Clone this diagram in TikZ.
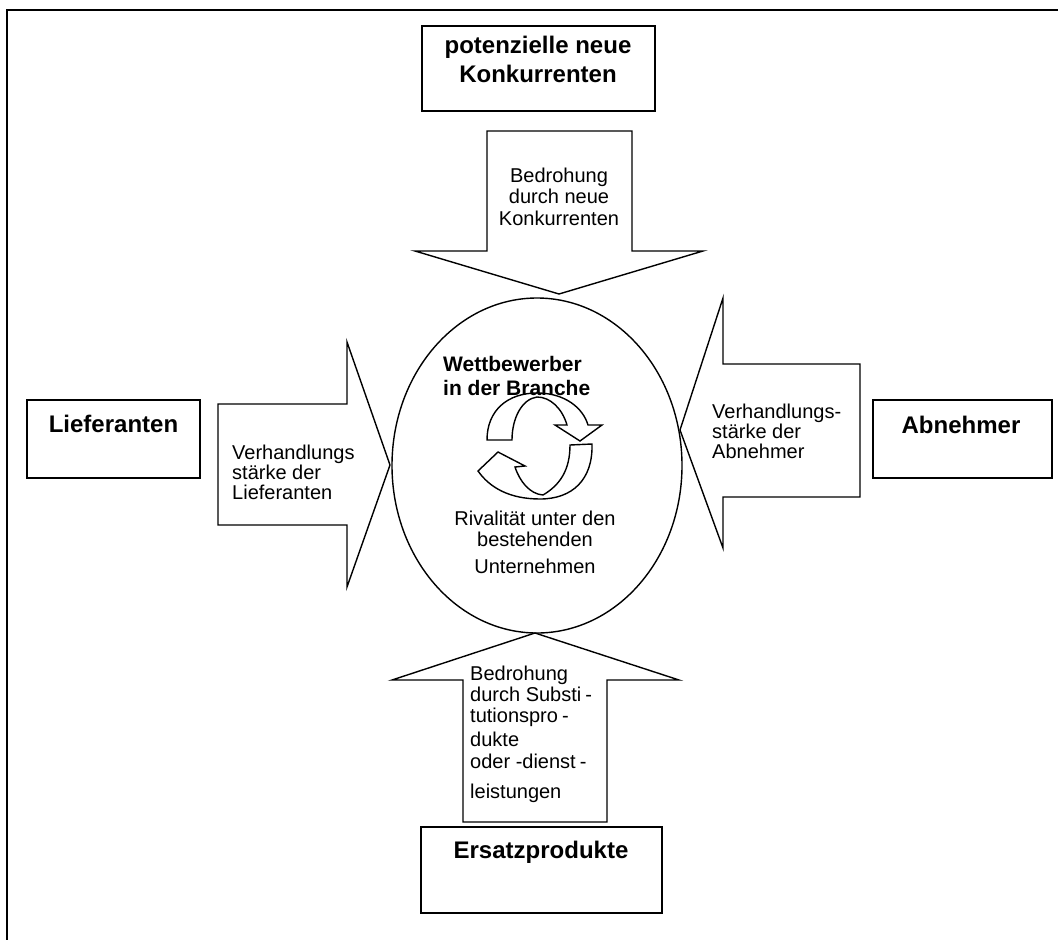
\documentclass[tikz,border=0pt]{standalone}
\usepackage{fontspec}
\setmainfont{Liberation Sans}
\usetikzlibrary{shapes.geometric}
\begin{document}
\begin{tikzpicture}[x=1pt,y=-1pt,
  outline/.style={draw=black,line width=1.4pt,line join=miter},
  boxtext/.style={font=\fontsize{24}{29}\selectfont\bfseries,inner sep=0pt,align=center,anchor=north},
  plain/.style={font=\fontsize{20}{21}\selectfont,inner sep=0pt},
  hy/.style={}
]
\useasboundingbox (0,0) rectangle (1058,940);

% outer frame, running off the right and bottom edges
\begin{scope}
  \clip (0,0) rectangle (1058,940);
  \draw[line width=2pt] (7,10) rectangle (1080,960);
\end{scope}

% the four outer parties
\draw[outline] (422,26) rectangle (655,111);
\node[boxtext] (neu) at (538,35.7) {potenzielle neue\\Konkurrenten};

\draw[outline] (27,400) rectangle (200,478);
\node[boxtext] (lief) at (113.5,414.7) {Lieferanten};

\draw[outline] (873,400) rectangle (1052,478);
\node[boxtext] (abn) at (961,415.7) {Abnehmer};

\draw[outline] (421,827) rectangle (662,913);
\node[boxtext] (ersatz) at (541,840.7) {Ersatzprodukte};

% the central industry
\node[outline,ellipse,minimum width=290pt,minimum height=335pt,inner sep=0pt] (branche) at (537,465.5) {};
\node[font=\fontsize{21}{24}\selectfont\bfseries,inner sep=0pt,align=left,anchor=north west] (wett) at (443,355.9) {Wettbewerber\\in der Branche};

% rotating arrows
\draw[outline] (512,440) -- (487,440)
  .. controls (487,410) and (508,393) .. (537,393)
  .. controls (565,393) and (583,408) .. (588,425)
  -- (602,425) -- (580,441) -- (555,425) -- (567,425)
  .. controls (562,408) and (550,397) .. (537,397)
  .. controls (522,399) and (512,418) .. (512,440) -- cycle;
\draw[outline] (570,445) -- (592,444)
  .. controls (593,480) and (572,499) .. (540,499)
  .. controls (510,499) and (490,488) .. (478,471)
  -- (498,452) -- (525,466) -- (515,467)
  .. controls (520,482) and (530,494) .. (543,495)
  .. controls (560,485) and (570,470) .. (570,445) -- cycle;

\node[plain,align=center,anchor=north] (rival) at (535,510.6) {Rivalität unter den\\bestehenden\\[6pt]Unternehmen};

% the four forces as block arrows
\draw[outline] (487,131) -- (632,131) -- (632,251) -- (703,251) -- (559,294)
  -- (415,251) -- (487,251) -- cycle;
\node[plain,font=\fontsize{20}{21.5}\selectfont,align=center,anchor=north] (tneu) at (559,167.6) {Bedrohung\\durch neue\\Konkurrenten};

\draw[outline] (218,404) -- (347,404) -- (347,342) -- (390,465) -- (347,587)
  -- (347,525) -- (218,525) -- cycle;
\node[plain,font=\fontsize{20}{20}\selectfont,align=left,anchor=north west] (tlief) at (232,444.6) {Verhandlungs\\stärke der\\Lieferanten};

\draw[outline] (860,364) -- (723,364) -- (723,298) -- (680,430) -- (723,548)
  -- (723,497) -- (860,497) -- cycle;
\node[plain,font=\fontsize{20}{20}\selectfont,align=left,anchor=north west] (tabn) at (712,403.6) {Verhandlungs-\\stärke der\\Abnehmer};

\draw[outline] (463,822) -- (463,680) -- (392,680) -- (535,633) -- (679,680)
  -- (607,680) -- (607,822) -- cycle;
\node[plain,align=left,anchor=north west] (tersatz) at (470,665.6) {Bedrohung\\durch Substi\kern4pt-\\tutionspro\kern4pt-\\[3pt]dukte\\[1pt]oder -dienst\kern4pt-\\[9pt]leistungen};

\end{tikzpicture}
\end{document}
